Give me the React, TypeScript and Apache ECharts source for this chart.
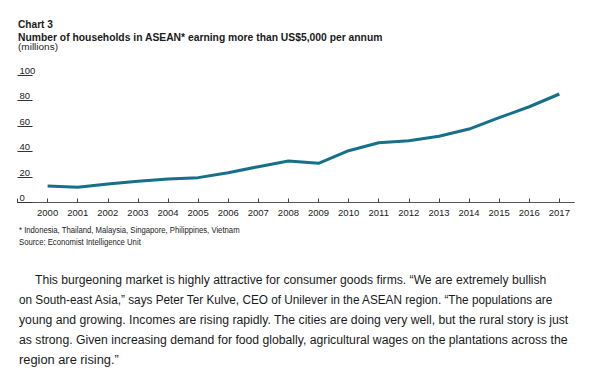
import React, { useEffect, useRef } from "react";
import * as echarts from "echarts";

const years = [2000, 2001, 2002, 2003, 2004, 2005, 2006, 2007, 2008, 2009, 2010, 2011, 2012, 2013, 2014, 2015, 2016, 2017];
const households = [12.9, 11.9, 14.5, 16.6, 18.4, 19.5, 23.4, 28.1, 32.5, 30.7, 40.6, 46.9, 48.5, 51.9, 57.6, 66.5, 75.1, 85.1];
const yMin = 0;
const yMax = 100;
const yStep = 20;

const chartLabel = "Chart 3";
const titleText = "Number of households in ASEAN* earning more than US$5,000 per annum";
const unitText = "(millions)";
const footnoteText = "* Indonesia, Thailand, Malaysia, Singapore, Philippines, Vietnam";
const sourceText = "Source: Economist Intelligence Unit";
const paragraphLines = [
  "This burgeoning market is highly attractive for consumer goods firms. \u201CWe are extremely bullish",
  "on South-east Asia,\u201D says Peter Ter Kulve, CEO of Unilever in the ASEAN region. \u201CThe populations are",
  "young and growing. Incomes are rising rapidly. The cities are doing very well, but the rural story is just",
  "as strong. Given increasing demand for food globally, agricultural wages on the plantations across the",
  "region are rising.\u201D",
];

const FAM = '"Liberation Sans Narrow", "Liberation Sans", Arial, sans-serif';

function measure(text: string, size: number, weight: string): number {
  const c = document.createElement("canvas").getContext("2d");
  if (!c) return 0;
  c.font = `${weight} ${size}px ${FAM}`;
  return c.measureText(text).width;
}

type Spec = { text: string; x: number; y: number; w: number; size: number; weight: string; fill: string };

function makeText(s: Spec) {
  const m = measure(s.text, s.size, s.weight);
  const sx = m > 0 ? s.w / m : 1;
  return {
    type: "text",
    x: s.x,
    y: s.y,
    scaleX: sx,
    silent: true,
    style: {
      text: s.text,
      fontFamily: FAM,
      fontSize: s.size,
      fontWeight: s.weight,
      fill: s.fill,
      align: "left",
      verticalAlign: "middle",
    },
  };
}

export default function App() {
  const ref = useRef<HTMLDivElement>(null);
  useEffect(() => {
    if (!ref.current) return;
    const chart = echarts.init(ref.current, null, { renderer: "svg" });
    const paraStarts = [35, 19, 19, 19, 19];
    const paraWidths = [512, 535, 550, 549, 100];
    const paraY = [279.7, 299.6, 319.5, 339.5, 359.3];
    const specs: Spec[] = [
      { text: chartLabel, x: 18, y: 24.8, w: 35, size: 10.5, weight: "bold", fill: "#1a1a1a" },
      { text: titleText, x: 18, y: 37.2, w: 365, size: 10.5, weight: "bold", fill: "#1a1a1a" },
      { text: unitText, x: 18, y: 46.8, w: 40, size: 9.5, weight: "normal", fill: "#222" },
      { text: footnoteText, x: 19, y: 230.6, w: 221, size: 8.5, weight: "normal", fill: "#222" },
      { text: sourceText, x: 19, y: 242.2, w: 122, size: 8.5, weight: "normal", fill: "#222" },
      ...paragraphLines.map((t, i) => ({
        text: t,
        x: paraStarts[i],
        y: paraY[i],
        w: paraWidths[i],
        size: 13.5,
        weight: "normal",
        fill: "#1a1a1a",
      })),
    ];
    chart.setOption({
      animation: false,
      backgroundColor: "#ffffff",
      grid: { left: 17.5, right: 25.6, top: 75, bottom: 179.5, containLabel: false },
      xAxis: {
        type: "value",
        min: 1999,
        max: 2017.5,
        interval: 1,
        axisLine: { show: true, lineStyle: { color: "#555", width: 1 } },
        axisTick: { show: true, inside: true, length: 4, lineStyle: { color: "#444" } },
        splitLine: { show: false },
        axisLabel: {
          margin: 5,
          fontFamily: FAM,
          fontSize: 9.5,
          color: "#222",
          showMaxLabel: false,
          formatter: (v: number) => (v >= years[0] && Number.isInteger(v) ? String(v) : ""),
        },
      },
      yAxis: {
        type: "value",
        min: yMin,
        max: yMax,
        interval: yStep,
        axisLine: { show: false },
        axisTick: { show: true, inside: true, length: 15, lineStyle: { color: "#333" } },
        splitLine: { show: false },
        axisLabel: {
          inside: true,
          margin: 2,
          align: "left",
          verticalAlign: "bottom",
          lineHeight: 10,
          fontFamily: FAM,
          fontSize: 9.5,
          color: "#222",
        },
      },
      series: [
        {
          type: "line",
          data: years.map((y, i) => [y, households[i]]),
          showSymbol: false,
          lineStyle: { width: 3, color: "#16708a" },
          itemStyle: { color: "#16708a" },
          z: 5,
        },
      ],
      graphic: specs.map(makeText),
    });
    return () => chart.dispose();
  }, []);
  return (
    <div
      ref={ref}
      style={{ position: "absolute", left: 0, top: 0, width: 600, height: 382, background: "#fff" }}
    />
  );
}
